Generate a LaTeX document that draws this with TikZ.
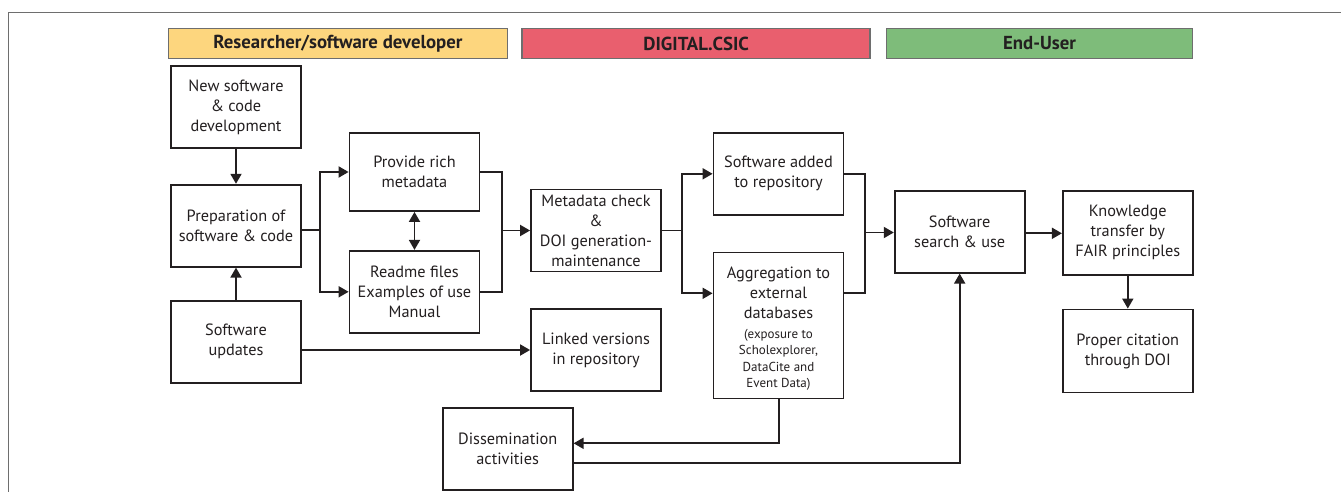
\documentclass[tikz,border=0pt]{standalone}
\usepackage{fontspec}
\setmainfont{PT Sans}
\usetikzlibrary{arrows.meta}
\definecolor{txt}{HTML}{231F20}
\definecolor{hyel}{HTML}{FDD67E}
\definecolor{hred}{HTML}{E95F6E}
\definecolor{hgrn}{HTML}{7EBC7A}
\definecolor{frm}{HTML}{6E6E6E}
\tikzset{
  box/.style={draw=txt, line width=1.8pt, fill=white, minimum width=130pt, inner sep=0pt,
    align=center, text=txt, font=\fontsize{16.3}{20}\selectfont},
  hdr/.style={draw=frm, line width=1.6pt, minimum height=30pt, inner sep=0pt, text=txt,
    font=\fontsize{18.8}{20}\selectfont\bfseries},
  conn/.style={draw=txt, line width=1.8pt},
  arr/.style={conn, -{Triangle[length=10pt,width=11pt]}},
  darr/.style={conn, {Triangle[length=10pt,width=11pt]}-{Triangle[length=10pt,width=11pt]}}
}
\begin{document}
\begin{tikzpicture}[x=1pt,y=-1pt]
\useasboundingbox (0,0) rectangle (1341,492);
% frame
\draw[frm, line width=1.1pt] (8.3,492) -- (8.3,12.3) -- (1341,12.3);
% headers
\node[hdr, fill=hyel, minimum width=339pt] (h1) at (338,43.5) {Researcher/software developer};
\node[hdr, fill=hred, minimum width=348pt] (h2) at (696.2,43.5) {DIGITAL.CSIC};
\node[hdr, fill=hgrn, minimum width=306pt] (h3) at (1039.5,43.5) {End-User};
% boxes
\node[box, minimum height=82pt] (new) at (236,107.3) {New software\\ \& code\\ development};
\node[box, minimum height=82pt] (prep) at (236,225.7) {Preparation of\\ software \& code};
\node[box, minimum height=82pt] (upd) at (236,341.7) {Software\\ updates};
\node[box, minimum height=78pt] (prov) at (414.5,172) {Provide rich\\ metadata};
\node[box, minimum height=82pt] (read) at (414.5,291.8) {Readme files\\ Examples of use\\ Manual};
\node[box, minimum height=82pt] (meta) at (596,230.5) {Metadata check\\ \&\\ DOI generation-\\ maintenance};
\node[box, minimum height=82pt] (link) at (596,350) {Linked versions\\ in repository};
\node[box, minimum height=82pt] (add) at (778.5,173.8) {Software added\\ to repository};
\node[box, minimum height=146pt] (agg) at (778.5,325.5) {\rule{0pt}{20pt}Aggregation to\\ external\\ databases\\
  {\fontsize{13}{16.3}\selectfont\begin{tabular}{@{}c@{}}\rule{0pt}{18.5pt}(exposure to\\ Scholexplorer,\\ DataCite and\\ Event Data)\end{tabular}}};
\node[box, minimum height=82pt] (dis) at (507.7,449) {Dissemination\\ activities};
\node[box, minimum height=82pt] (srch) at (959.7,231.7) {Software\\ search \& use};
\node[box, minimum height=84pt] (know) at (1127.8,232.8) {Knowledge\\ transfer by\\ FAIR principles};
\node[box, minimum height=83pt] (prop) at (1127.8,351) {Proper citation\\ through DOI};
% junction coordinates
\coordinate (j1) at (320.3,230);
\coordinate (j2) at (501.7,230.5);
\coordinate (j3) at (682.3,230.5);
\coordinate (j3b) at (682.3,293.3);
\coordinate (j4) at (865,232.5);
\coordinate (j4b) at (865,293.3);
\coordinate (j5) at (779,443.3);
\coordinate (j6) at (959.7,462.7);
% connectors
\draw[arr] (new) -- (prep);
\draw[arr] (upd) -- (prep);
\draw[conn] (prep.east |- j1) -- (j1);
\draw[arr] (j1) |- (prov.west);
\draw[arr] (j1) |- (read.west);
\draw[darr] (prov) -- (read);
\draw[conn] (prov.east) -| (j2);
\draw[conn] (read.east) -| (j2);
\draw[arr] (j2) -- (meta.west |- j2);
\draw[conn] (meta.east |- j3) -- (j3);
\draw[arr] (j3) |- (add.west);
\draw[arr] (j3) -- (j3b) -- (agg.west |- j3b);
\draw[conn] (add.east) -| (j4);
\draw[conn] (agg.east |- j4b) -- (j4b) -- (j4);
\draw[arr] (j4) -- (srch.west |- j4);
\draw[arr] (srch.east |- 0,233.3) -- (know.west |- 0,233.3);
\draw[arr] (know) -- (prop);
\draw[arr] (upd.east |- link.west) -- (link.west);
\draw[arr] (agg.south -| j5) |- (dis.east |- j5);
\draw[arr] (dis.east |- j6) -- (j6) -- (srch.south);
\end{tikzpicture}
\end{document}
